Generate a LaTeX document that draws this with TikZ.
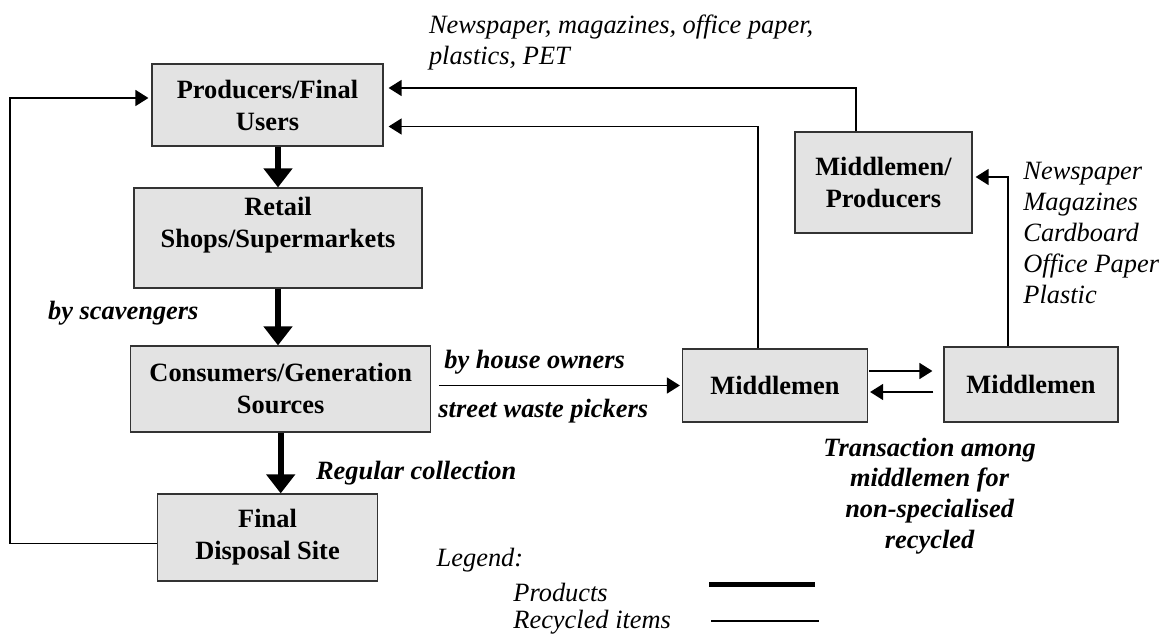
\documentclass[tikz,border=0pt]{standalone}
\usepackage{fontspec}
\setmainfont{Liberation Serif}
\usetikzlibrary{arrows.meta,calc}

\begin{document}
\begin{tikzpicture}[x=0.5pt,y=-0.5pt,
  box/.style={draw=black!80, line width=0.6pt, fill=black!11, align=center, inner sep=0pt,
    font=\fontsize{13.2}{16}\selectfont\bfseries},
  product/.style={line width=3pt, -{Triangle[width=14pt,length=9.5pt]}},
  recycled/.style={line width=0.75pt, -{Triangle[width=8pt,length=6.5pt]}},
  lbl/.style={inner sep=0pt, align=left, font=\fontsize{13.2}{15.4}\selectfont\itshape},
  blbl/.style={inner sep=0pt, align=center, font=\fontsize{13.2}{15.4}\selectfont\bfseries\itshape}]

   \useasboundingbox (0,0) rectangle (1165,635);

   % boxes
   \node[box, minimum width=115.5pt, minimum height=41pt] (prod) at (267.5,105) {Producers/Final\\Users};
   \node[box, minimum width=144pt, minimum height=50pt] (retail) at (278,238) {Retail\\Shops/Supermarkets\\\mbox{}};
   \node[box, minimum width=150pt, minimum height=43pt] (cons) at (280.7,389) {Consumers/Generation\\Sources};
   \node[box, minimum width=109.75pt, minimum height=43.5pt] (disp) at (267.5,537.5) {Final\\Disposal Site};
   \node[box, minimum width=92.5pt, minimum height=36.5pt] (mid1) at (775,385.5) {Middlemen};
   \node[box, minimum width=87pt, minimum height=37.5pt] (mid2) at (1031,384.5) {Middlemen};
   \node[box, minimum width=88.5pt, minimum height=50.5pt] (midprod) at (883.5,182.5) {Middlemen/\\Producers};

   % products
   \draw[product] (retail.north |- prod.south) -- (retail.north);
   \draw[product] (retail.south) -- (retail.south |- cons.north);
   \draw[product] (cons.south) -- (cons.south |- disp.north);

   % recycled items
   \coordinate (lft) at (10,0);
   \draw[recycled] ($(disp.west)+(0,6)$) -| ($(lft |- prod.west)+(0,-7)$) -- ($(prod.west)+(-3,-7)$);
   \draw[recycled] ($(midprod.north)+(-27.5,0)$) |- ($(prod.east)+(5,-17)$);
   \draw[recycled] ($(mid1.north)+(-17,0)$) |- ($(prod.east)+(5,21.5)$);
   \draw[recycled] ($(mid2.north)+(-23,0)$) |- ($(midprod.east)+(3,-5.5)$);
   \draw[recycled] ($(cons.east |- mid1.west)+(7.5,0)$) -- ($(mid1.west)+(-2,0)$);
   \draw[recycled] ($(mid1.east)+(1,-14.5)$) -- ($(mid2.west |- mid1.east)+(-11,-14.5)$);
   \draw[recycled] ($(mid2.west |- mid1.east)+(-10,6.5)$) -- ($(mid1.east)+(2,6.5)$);

   % labels
   \node[lbl, anchor=west] (toplist) at (428.6,42.5) {Newspaper, magazines, office paper,\\plastics, PET};
   \node[lbl, anchor=west] (sidelist) at (1023,233) {Newspaper\\Magazines\\Cardboard\\Office Paper\\Plastic};
   \node[blbl, anchor=west] (scav) at (47.8,313) {by scavengers};
   \node[blbl, anchor=west] (house) at (444,362) {by house owners};
   \node[blbl, anchor=west] (street) at (438,411) {street waste pickers};
   \node[blbl, anchor=west] (regular) at (315.7,473) {Regular collection};
   \node[blbl] (trans) at (929.6,496) {Transaction among\\middlemen for\\non-specialised\\recycled};

   % legend
   \node[lbl, anchor=west] (legend) at (436.3,560) {Legend:};
   \node[lbl, anchor=west] (legprod) at (513,592) {Products};
   \node[lbl, anchor=west] (legrec) at (513,622) {Recycled items};
   \coordinate (lp) at (709,584);
   \draw[line width=2.5pt] (lp) -- ++(106,0);
   \coordinate (lr) at (711,621);
   \draw[line width=0.75pt] (lr) -- ++(108,0);
  \end{tikzpicture}
\end{document}
